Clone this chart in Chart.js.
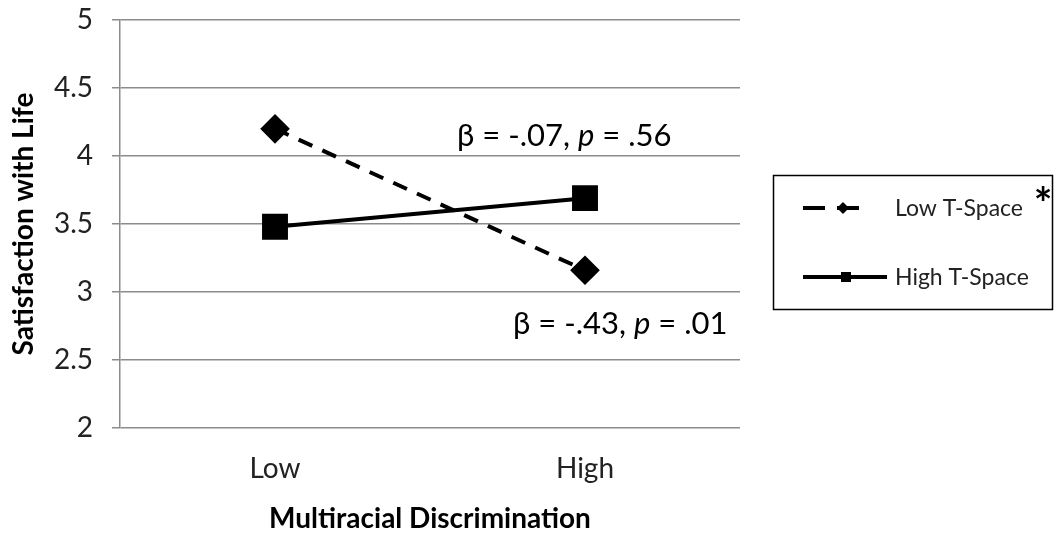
<!DOCTYPE html>
<html><head><meta charset="utf-8">
<script src="https://cdn.jsdelivr.net/npm/chart.js@4"></script>
<style>html,body{margin:0;padding:0;background:#fff}#wrap{width:1058px;height:533px}</style>
</head><body><div id="wrap"><canvas id="c" width="1058" height="533"></canvas></div>
<script>
const categories = ['Low', 'High'];
const lowTSpace = [4.2, 3.16];
const highTSpace = [3.48, 3.69];
const seriesNames = ['Low T-Space', 'High T-Space'];
const yTicks = [2, 2.5, 3, 3.5, 4, 4.5, 5];
const xTitle = 'Multiracial Discrimination';
const yTitle = 'Satisfaction with Life';
const annotations = [
  {parts: [['β = -.07, ', false], ['p', true], [' = .56', false]]},
  {parts: [['β = -.43, ', false], ['p', true], [' = .01', false]]}
];
const FONT = 'Lato, "Open Sans", sans-serif';

const overlay = {
  id: 'overlay',
  afterDraw(chart) {
    const ctx = chart.ctx;
    const ca = chart.chartArea;
    ctx.save();
    ctx.fillStyle = '#000';
    ctx.textBaseline = 'alphabetic';
    const annPos = [[ca.left + 337, 146], [ca.left + 393, 334]];
    annotations.forEach((a, i) => {
      let x = annPos[i][0];
      a.parts.forEach(([t, it]) => {
        ctx.font = (it ? 'italic ' : '') + '31px ' + FONT;
        ctx.fillText(t, x, annPos[i][1]);
        x += ctx.measureText(t).width;
      });
    });
    // legend box
    const bx = 773, by = 175, bw = 279, bh = 134;
    ctx.strokeStyle = '#000';
    ctx.lineWidth = 1.5;
    ctx.strokeRect(bx + 0.5, by + 0.5, bw, bh);
    const rows = [208, 277];
    chart.data.datasets.forEach((ds, i) => {
      const y = rows[i];
      ctx.beginPath();
      ctx.setLineDash(i === 0 ? [22, 12] : []);
      ctx.lineWidth = 4;
      ctx.strokeStyle = ds.borderColor;
      const x0 = 803, x1 = i === 0 ? 868 : 887;
      ctx.moveTo(x0, y); ctx.lineTo(x1, y); ctx.stroke();
      ctx.setLineDash([]);
      ctx.fillStyle = '#000';
      const mx = i === 0 ? 843 : 846;
      ctx.beginPath();
      if (ds.pointStyle === 'rectRot') {
        ctx.moveTo(mx, y - 6); ctx.lineTo(mx + 6, y); ctx.lineTo(mx, y + 6); ctx.lineTo(mx - 6, y);
      } else {
        ctx.rect(mx - 5, y - 5, 10, 10);
      }
      ctx.fill();
      ctx.font = '23px ' + FONT;
      ctx.textBaseline = 'middle';
      ctx.fillStyle = '#222';
      ctx.fillText(ds.label, 895, y + 1);
    });
    ctx.fillStyle = '#000';
    ctx.font = 'bold 44px ' + FONT;
    ctx.textBaseline = 'middle';
    ctx.textAlign = 'center';
    ctx.fillText('*', 1043, 205);
    ctx.restore();
  }
};

new Chart(document.getElementById('c'), {
  type: 'line',
  data: {
    labels: categories,
    datasets: [
      {label: seriesNames[0], data: lowTSpace, borderColor: '#000', backgroundColor: '#000',
       borderWidth: 4, borderDash: [15, 11], pointStyle: 'rectRot', pointRadius: 12, pointHoverRadius: 12, tension: 0},
      {label: seriesNames[1], data: highTSpace, borderColor: '#000', backgroundColor: '#000',
       borderWidth: 4, pointStyle: 'rect', pointRadius: 15.5, pointHoverRadius: 15.5, tension: 0}
    ]
  },
  options: {
    responsive: false,
    animation: false,
    layout: {padding: {left: 0, right: 318, top: 20, bottom: 0}},
    plugins: {legend: {display: false}, tooltip: {enabled: false}},
    scales: {
      x: {
        offset: true,
        grid: {display: false, drawTicks: false},
        border: {display: false},
        ticks: {color: '#222', font: {family: FONT, size: 28}, padding: 24},
        title: {display: true, text: xTitle, color: '#000', font: {family: FONT, size: 28, weight: 'bold', lineHeight: 1}, padding: {top: 0, bottom: 0}},
        afterFit(s) { s.height = 105; s.paddingLeft = 0; s.paddingRight = 0; }
      },
      y: {
        min: 2, max: 5,
        afterBuildTicks(s) { s.ticks = yTicks.map(v => ({value: v})); },
        grid: {color: '#8c8c8c', lineWidth: 1.5, tickLength: 8, drawTicks: true},
        border: {display: true, color: '#8c8c8c', width: 1.5},
        ticks: {color: '#222', font: {family: FONT, size: 28}, padding: 19,
                callback: v => String(v)},
        title: {display: true, text: yTitle, color: '#000', font: {family: FONT, size: 28, weight: 'bold', lineHeight: 1}, padding: {top: 10, bottom: 0}},
        afterFit(s) { s.width = 120; s.paddingTop = 0; s.paddingBottom = 0; }
      }
    }
  },
  plugins: [overlay]
});
</script>
</body></html>
